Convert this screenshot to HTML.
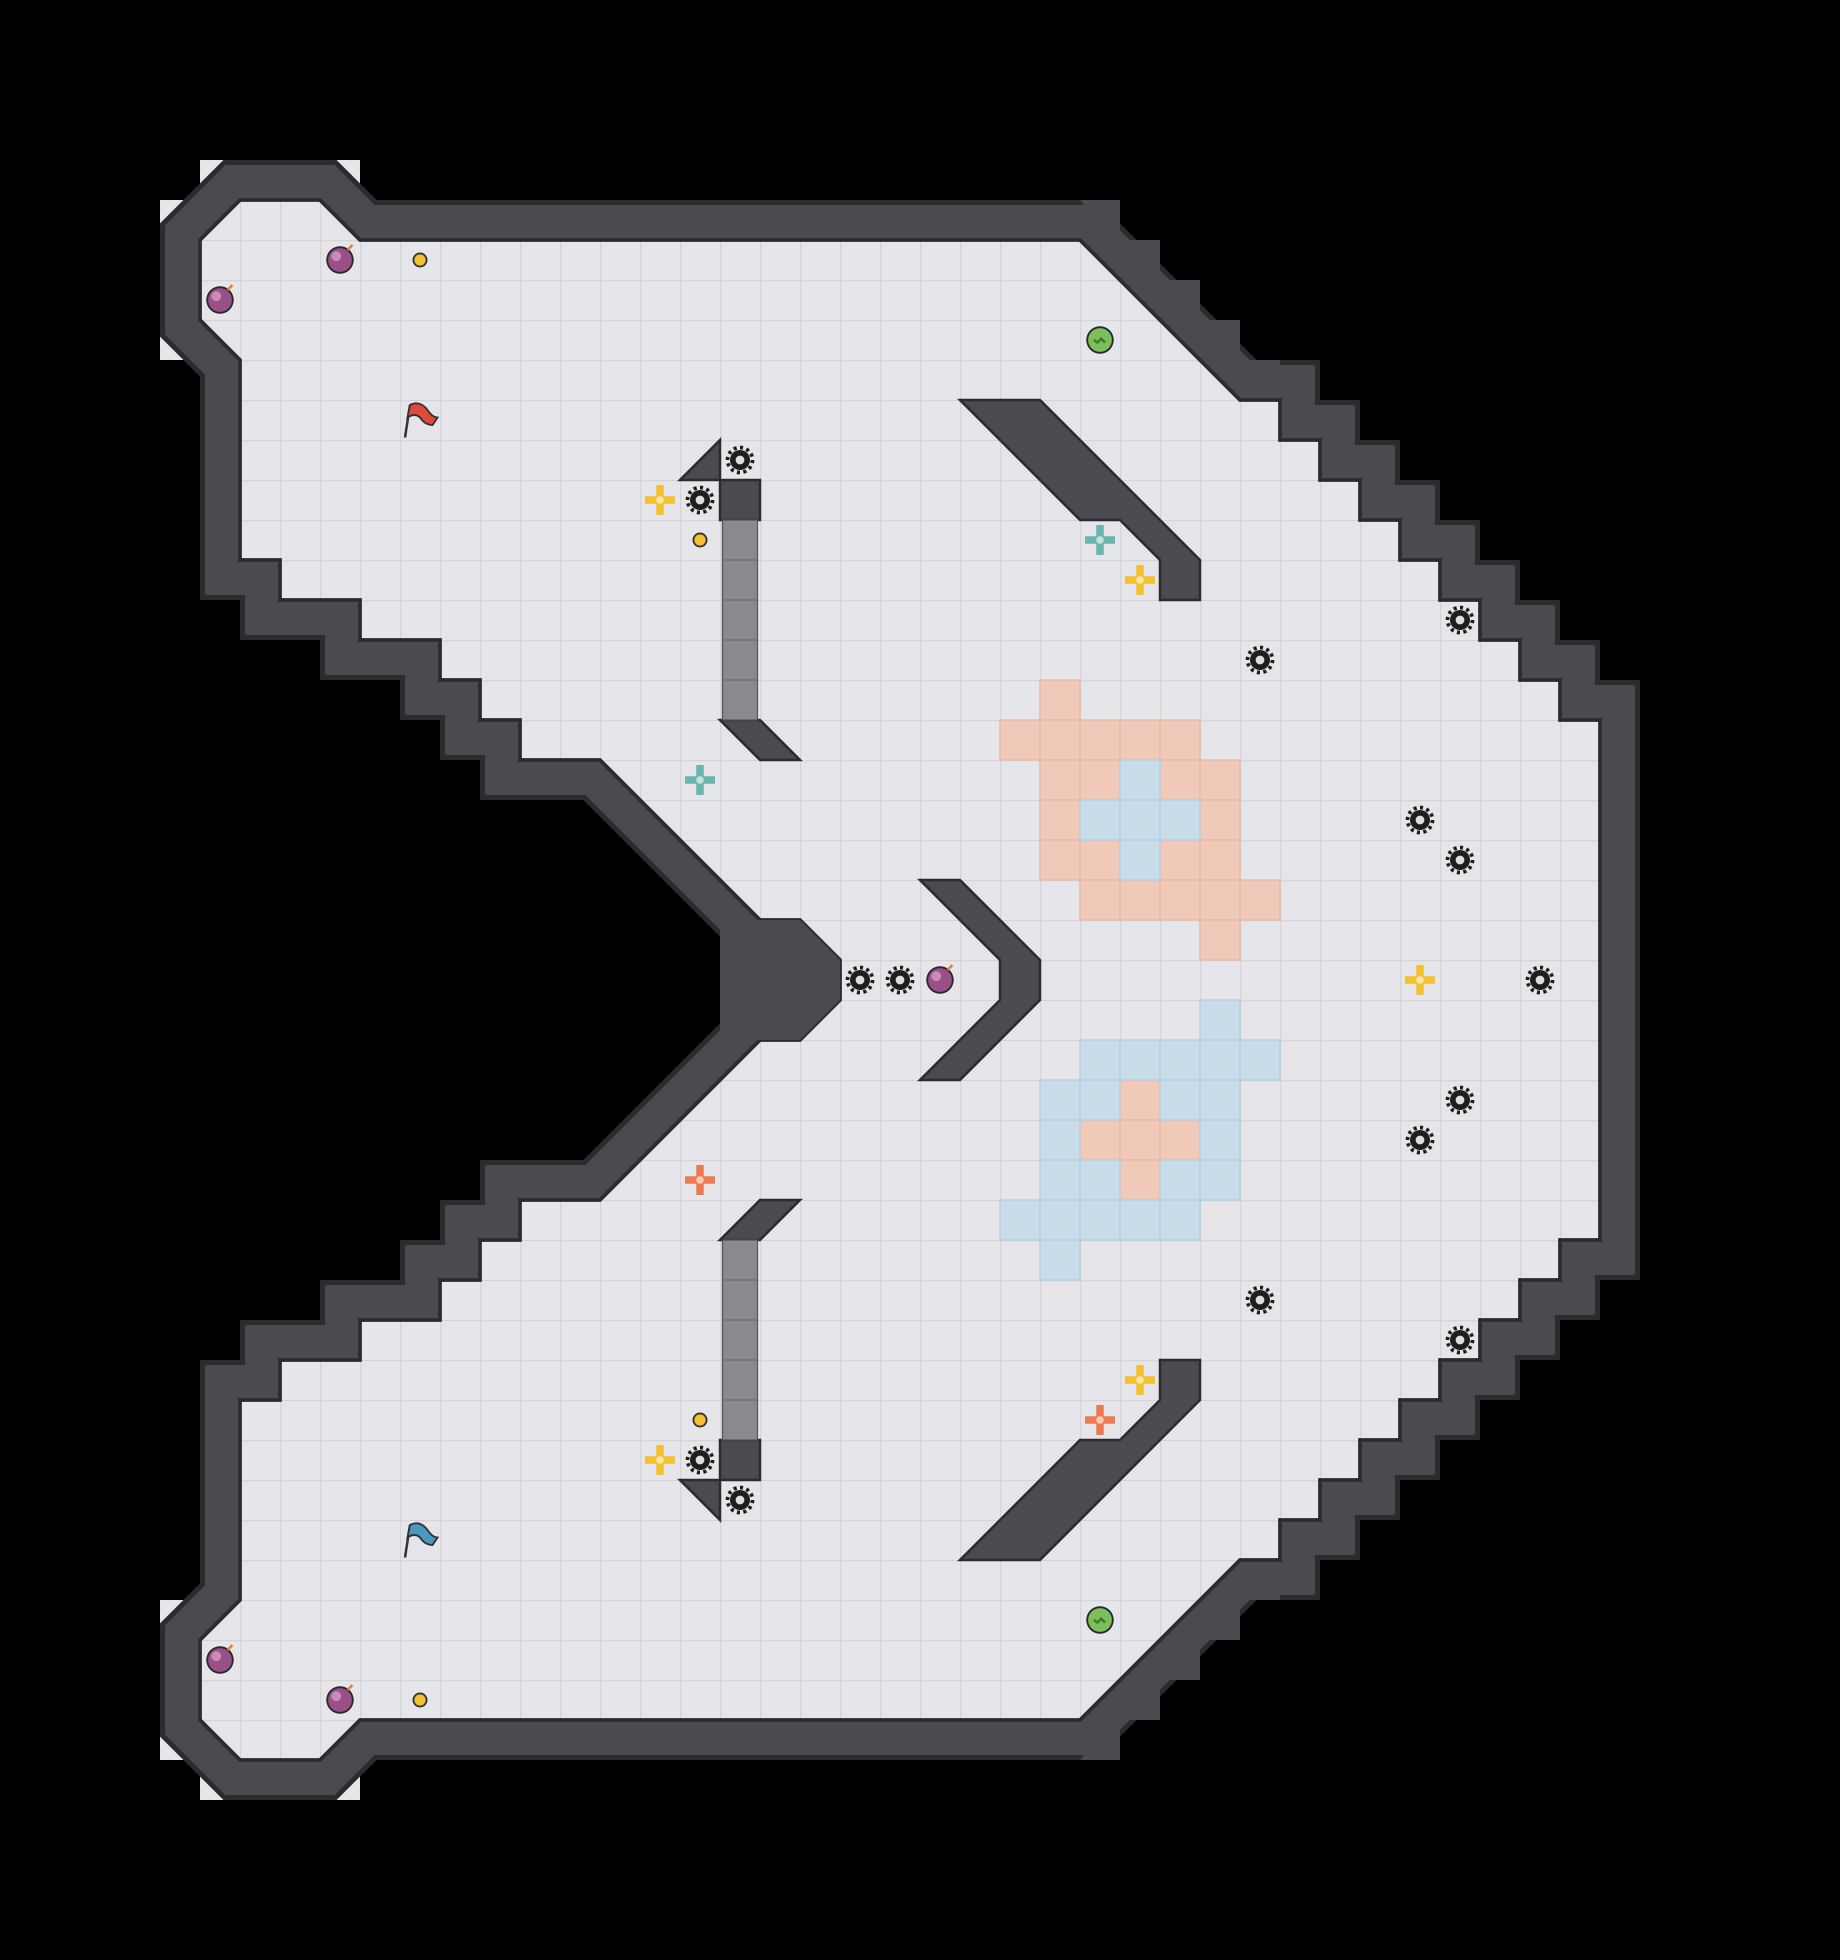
<!DOCTYPE html>
<html><head><meta charset="utf-8"><style>html,body{margin:0;padding:0;background:#000}svg{display:block}</style></head>
<body>
<svg width="1840" height="1960" viewBox="0 0 1472 1568" xmlns="http://www.w3.org/2000/svg">
<defs>
<pattern id="g" width="32" height="32" patternUnits="userSpaceOnUse">
<rect width="32" height="32" fill="#e6e6ea"/>
<path d="M0 0.5H32M0.5 0V32" stroke="#d4d4d9" stroke-width="1"/>
</pattern>
<g id="spk"><circle r="8" fill="#1e1e1e"/><circle r="10" fill="none" stroke="#1e1e1e" stroke-width="3" stroke-dasharray="2.5 2.7"/><circle r="3.5" fill="#ddd"/></g>
<g id="bomb"><circle r="11" fill="#2a2a2a"/><circle r="9.5" fill="#9a4f88"/><circle cx="-3" cy="-3" r="4" fill="#c98ab8"/><path d="M6 -8 l4 -4" stroke="#e08040" stroke-width="2"/></g>
<g id="dot"><circle r="6" fill="#333"/><circle r="4.5" fill="#f2c230"/></g>
<g id="boost"><path d="M-3 -12h6v9h9v6h-9v9h-6v-9h-9v-6h9z" fill="currentColor"/><circle r="3" fill="#fff" opacity=".6"/></g>
<g id="grn"><circle r="11" fill="#2a2a2a"/><circle r="9.5" fill="#7cbf5a"/><path d="M-5 0l3 2 3-3 3 3" stroke="#3d7a2e" stroke-width="2" fill="none"/></g>
</defs>
<rect width="1472" height="1568" fill="#000"/>
<g fill="#e6e6ea">
<rect x="160" y="128" width="32" height="32"/><rect x="256" y="128" width="32" height="32"/>
<rect x="128" y="160" width="32" height="32"/><rect x="128" y="256" width="32" height="32"/>
<rect x="160" y="1408" width="32" height="32"/><rect x="256" y="1408" width="32" height="32"/>
<rect x="128" y="1376" width="32" height="32"/><rect x="128" y="1280" width="32" height="32"/>
</g>
<polygon points="672,768 640,736 608,736 480,608 416,608 416,576 384,576 384,544 352,544 352,512 288,512 288,480 224,480 224,448 192,448 192,288 160,256 160,192 192,160 256,160 288,192 864,192 992,320 1024,320 1024,352 1056,352 1056,384 1088,384 1088,416 1120,416 1120,448 1152,448 1152,480 1184,480 1184,512 1216,512 1216,544 1248,544 1248,576 1280,576 1280,992 1248,992 1248,1024 1216,1024 1216,1056 1184,1056 1184,1088 1152,1088 1152,1120 1120,1120 1120,1152 1088,1152 1088,1184 1056,1184 1056,1216 1024,1216 1024,1248 992,1248 864,1376 288,1376 256,1408 192,1408 160,1376 160,1312 192,1280 192,1120 224,1120 224,1088 288,1088 288,1056 352,1056 352,1024 384,1024 384,992 416,992 416,960 480,960 608,832 640,832 672,800" fill="#4a4a50" stroke="#2c2c30" stroke-width="64" stroke-linejoin="miter"/>
<polygon points="672,768 640,736 608,736 480,608 416,608 416,576 384,576 384,544 352,544 352,512 288,512 288,480 224,480 224,448 192,448 192,288 160,256 160,192 192,160 256,160 288,192 864,192 992,320 1024,320 1024,352 1056,352 1056,384 1088,384 1088,416 1120,416 1120,448 1152,448 1152,480 1184,480 1184,512 1216,512 1216,544 1248,544 1248,576 1280,576 1280,992 1248,992 1248,1024 1216,1024 1216,1056 1184,1056 1184,1088 1152,1088 1152,1120 1120,1120 1120,1152 1088,1152 1088,1184 1056,1184 1056,1216 1024,1216 1024,1248 992,1248 864,1376 288,1376 256,1408 192,1408 160,1376 160,1312 192,1280 192,1120 224,1120 224,1088 288,1088 288,1056 352,1056 352,1024 384,1024 384,992 416,992 416,960 480,960 608,832 640,832 672,800" fill="#4a4a50" stroke="#4a4a50" stroke-width="56" stroke-linejoin="miter"/>
<g fill="#4a4a50" stroke="none">
<polygon points="864,160 896,160 896,192 928,192 928,224 960,224 960,256 992,256 992,288 1024,288 1024,320 992,320"/>
<polygon points="864,1408 896,1408 896,1376 928,1376 928,1344 960,1344 960,1312 992,1312 992,1280 1024,1280 1024,1248 992,1248"/>
<polygon points="480,608 480,640 512,640 512,672 544,672 544,704 576,704 576,736 608,736"/>
<polygon points="480,960 480,928 512,928 512,896 544,896 544,864 576,864 576,832 608,832"/>
</g>
<polygon points="672,768 640,736 608,736 480,608 416,608 416,576 384,576 384,544 352,544 352,512 288,512 288,480 224,480 224,448 192,448 192,288 160,256 160,192 192,160 256,160 288,192 864,192 992,320 1024,320 1024,352 1056,352 1056,384 1088,384 1088,416 1120,416 1120,448 1152,448 1152,480 1184,480 1184,512 1216,512 1216,544 1248,544 1248,576 1280,576 1280,992 1248,992 1248,1024 1216,1024 1216,1056 1184,1056 1184,1088 1152,1088 1152,1120 1120,1120 1120,1152 1088,1152 1088,1184 1056,1184 1056,1216 1024,1216 1024,1248 992,1248 864,1376 288,1376 256,1408 192,1408 160,1376 160,1312 192,1280 192,1120 224,1120 224,1088 288,1088 288,1056 352,1056 352,1024 384,1024 384,992 416,992 416,960 480,960 608,832 640,832 672,800" fill="url(#g)" stroke="#2c2c30" stroke-width="3"/>
<polygon points="576,736 640,736 672,768 672,800 640,832 576,832" fill="#4a4a50"/>
<g fill="#f0c9b9" stroke="#e3b7a6" stroke-width="1">
<rect x="832" y="544" width="32" height="32"/><rect x="800" y="576" width="32" height="32"/><rect x="832" y="576" width="32" height="32"/><rect x="864" y="576" width="32" height="32"/><rect x="896" y="576" width="32" height="32"/><rect x="928" y="576" width="32" height="32"/>
<rect x="832" y="608" width="32" height="32"/><rect x="864" y="608" width="32" height="32"/><rect x="928" y="608" width="32" height="32"/><rect x="960" y="608" width="32" height="32"/>
<rect x="832" y="640" width="32" height="32"/><rect x="960" y="640" width="32" height="32"/>
<rect x="832" y="672" width="32" height="32"/><rect x="864" y="672" width="32" height="32"/><rect x="928" y="672" width="32" height="32"/><rect x="960" y="672" width="32" height="32"/>
<rect x="864" y="704" width="32" height="32"/><rect x="896" y="704" width="32" height="32"/><rect x="928" y="704" width="32" height="32"/><rect x="960" y="704" width="32" height="32"/><rect x="992" y="704" width="32" height="32"/><rect x="960" y="736" width="32" height="32"/>
<rect x="896" y="864" width="32" height="32"/><rect x="864" y="896" width="32" height="32"/><rect x="896" y="896" width="32" height="32"/><rect x="928" y="896" width="32" height="32"/><rect x="896" y="928" width="32" height="32"/>
</g>
<g fill="#c9dcea" stroke="#b5cddf" stroke-width="1">
<rect x="896" y="608" width="32" height="32"/><rect x="864" y="640" width="32" height="32"/><rect x="896" y="640" width="32" height="32"/><rect x="928" y="640" width="32" height="32"/><rect x="896" y="672" width="32" height="32"/>
<rect x="960" y="800" width="32" height="32"/>
<rect x="864" y="832" width="32" height="32"/><rect x="896" y="832" width="32" height="32"/><rect x="928" y="832" width="32" height="32"/><rect x="960" y="832" width="32" height="32"/><rect x="992" y="832" width="32" height="32"/>
<rect x="832" y="864" width="32" height="32"/><rect x="864" y="864" width="32" height="32"/><rect x="928" y="864" width="32" height="32"/><rect x="960" y="864" width="32" height="32"/>
<rect x="832" y="896" width="32" height="32"/><rect x="960" y="896" width="32" height="32"/>
<rect x="832" y="928" width="32" height="32"/><rect x="864" y="928" width="32" height="32"/><rect x="928" y="928" width="32" height="32"/><rect x="960" y="928" width="32" height="32"/>
<rect x="800" y="960" width="32" height="32"/><rect x="832" y="960" width="32" height="32"/><rect x="864" y="960" width="32" height="32"/><rect x="896" y="960" width="32" height="32"/><rect x="928" y="960" width="32" height="32"/>
<rect x="832" y="992" width="32" height="32"/>
</g>
<g fill="#4a4a50" stroke="#2c2c30" stroke-width="2">
<polygon points="768,320 832,320 960,448 960,480 928,480 928,448 896,416 864,416"/>
<polygon points="768,1248 832,1248 960,1120 960,1088 928,1088 928,1120 896,1152 864,1152"/>
<polygon points="736,704 768,704 832,768 832,800 768,864 736,864 800,800 800,768"/>
<polygon points="544,384 576,352 576,384"/><rect x="576" y="384" width="32" height="32"/>
<polygon points="576,576 608,576 640,608 608,608"/>
<polygon points="544,1184 576,1216 576,1184"/><rect x="576" y="1152" width="32" height="32"/>
<polygon points="576,992 608,992 640,960 608,960"/>
</g>
<g fill="#8a8a8e" stroke="#555" stroke-width="1">
<rect x="578" y="416" width="28" height="160"/><rect x="578" y="992" width="28" height="160"/>
</g>
<g stroke="#6c6c70" stroke-width="1">
<path d="M578 448H606M578 480H606M578 512H606M578 544H606M578 1024H606M578 1056H606M578 1088H606M578 1120H606"/>
</g>
<g>
<use href="#spk" x="592" y="368"/><use href="#spk" x="560" y="400"/><use href="#spk" x="1168" y="496"/><use href="#spk" x="1008" y="528"/><use href="#spk" x="1136" y="656"/><use href="#spk" x="1168" y="688"/><use href="#spk" x="688" y="784"/><use href="#spk" x="720" y="784"/><use href="#spk" x="1232" y="784"/>
<use href="#spk" x="592" y="1200"/><use href="#spk" x="560" y="1168"/><use href="#spk" x="1168" y="1072"/><use href="#spk" x="1008" y="1040"/><use href="#spk" x="1136" y="912"/><use href="#spk" x="1168" y="880"/>
<use href="#bomb" x="272" y="208"/><use href="#bomb" x="176" y="240"/><use href="#bomb" x="752" y="784"/><use href="#bomb" x="176" y="1328"/><use href="#bomb" x="272" y="1360"/>
<use href="#dot" x="336" y="208"/><use href="#dot" x="560" y="432"/><use href="#dot" x="560" y="1136"/><use href="#dot" x="336" y="1360"/>
<g color="#f2c230"><use href="#boost" x="528" y="400"/><use href="#boost" x="912" y="464"/><use href="#boost" x="1136" y="784"/><use href="#boost" x="912" y="1104"/><use href="#boost" x="528" y="1168"/></g>
<g color="#6bb5b0"><use href="#boost" x="880" y="432"/><use href="#boost" x="560" y="624"/></g>
<g color="#f07a50"><use href="#boost" x="560" y="944"/><use href="#boost" x="880" y="1136"/></g>
<use href="#grn" x="880" y="272"/><use href="#grn" x="880" y="1296"/>
</g>
<g stroke="#333" stroke-width="2"><path d="M324 350 L328 324"/><path d="M324 1246 L328 1220"/></g>
<path d="M328 324 q8 -4 14 4 q4 6 8 6 l-4 6 q-6 0 -10 -6 q-4 -4 -10 0z" fill="#e04a3a" stroke="#333" stroke-width="1.5"/>
<path d="M328 1220 q8 -4 14 4 q4 6 8 6 l-4 6 q-6 0 -10 -6 q-4 -4 -10 0z" fill="#4a9ac0" stroke="#333" stroke-width="1.5"/>
</svg>
</body></html>
